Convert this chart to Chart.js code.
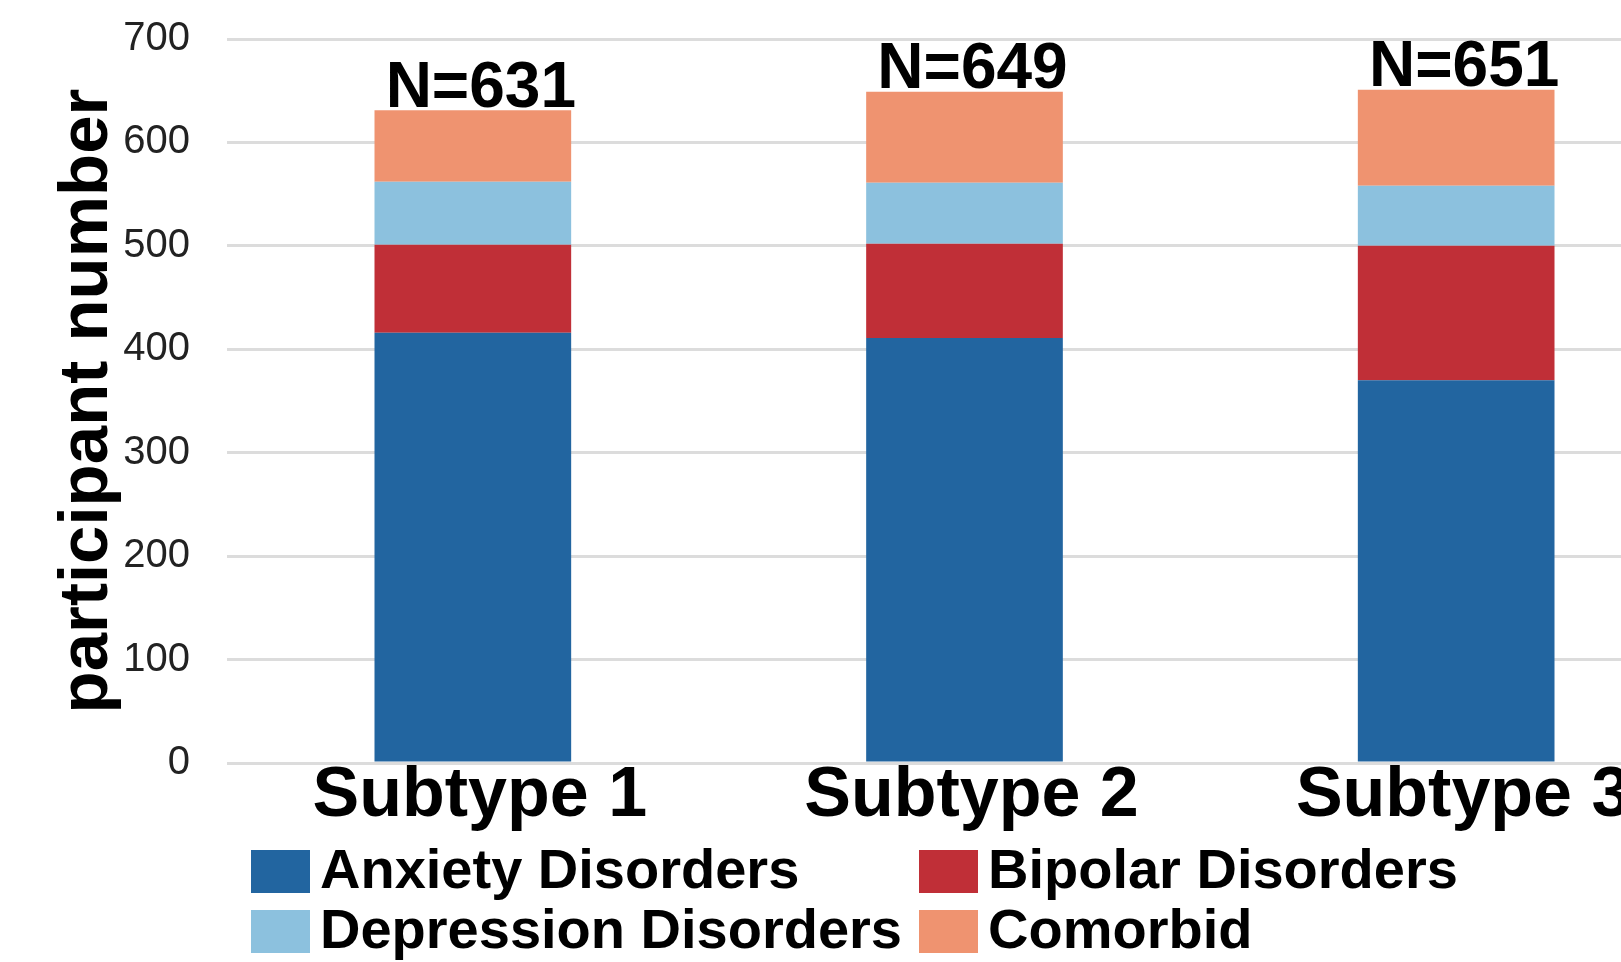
<!DOCTYPE html>
<html>
<head>
<meta charset="utf-8">
<script src="https://cdn.jsdelivr.net/npm/chart.js@4.4.1/dist/chart.umd.min.js"></script>
<style>
  html, body { margin: 0; padding: 0; background: #fff; overflow: hidden; width: 1621px; height: 962px; }
  #wrap { position: absolute; left: 0; top: 0; width: 1702px; height: 962px; }
</style>
</head>
<body>
<div id="wrap"><canvas id="chart"></canvas></div>
<script>
// Participants per subtype, split by diagnosis (stacked bottom to top)
const subtypes   = ['Subtype 1', 'Subtype 2', 'Subtype 3'];
const anxiety    = [416, 411, 370];
const bipolar    = [85, 91, 130];
const depression = [61, 59, 58];
const comorbid   = [69, 88, 93];
const seriesNames = ['Anxiety Disorders', 'Bipolar Disorders', 'Depression Disorders', 'Comorbid'];
const seriesColors = ['#2265a0', '#c02f37', '#8cc1de', '#ef9370'];

const FONT = '"Liberation Sans", Arial, Helvetica, sans-serif';

// "N=..." totals above each stacked bar
const totalsPlugin = {
  id: 'totals',
  afterDatasetsDraw(chart) {
    const ctx = chart.ctx;
    const last = chart.data.datasets.length - 1;
    const meta = chart.getDatasetMeta(last);
    ctx.save();
    ctx.font = 'bold 64px ' + FONT;
    ctx.fillStyle = '#000';
    ctx.textAlign = 'center';
    ctx.textBaseline = 'alphabetic';
    meta.data.forEach((bar, i) => {
      const total = chart.data.datasets.reduce((s, d) => s + d.data[i], 0);
      ctx.fillText('N=' + total, bar.x + 8, bar.y - 3.5);
    });
    ctx.restore();
  }
};

// Two-column legend below the axis
const gridLegendPlugin = {
  id: 'gridLegend',
  afterDraw(chart) {
    const ctx = chart.ctx;
    const colX = [251, 919];
    const rowTop = [850, 910];
    const boxW = 59, boxH = 43, textGap = 69, baselineOffset = 38;
    ctx.save();
    ctx.font = 'bold 56px ' + FONT;
    ctx.textAlign = 'left';
    ctx.textBaseline = 'alphabetic';
    chart.data.datasets.forEach((ds, i) => {
      const col = i % 2, row = Math.floor(i / 2);
      const x = colX[col], y = rowTop[row];
      ctx.fillStyle = ds.backgroundColor;
      ctx.fillRect(x, y, boxW, boxH);
      ctx.fillStyle = '#000';
      ctx.fillText(ds.label, x + textGap, y + baselineOffset);
    });
    ctx.restore();
  }
};

const datasets = [anxiety, bipolar, depression, comorbid].map((values, i) => ({
  label: seriesNames[i],
  data: values,
  backgroundColor: seriesColors[i],
  borderWidth: 0,
  categoryPercentage: 1.0,
  barPercentage: 0.4
}));

new Chart(document.getElementById('chart'), {
  type: 'bar',
  data: { labels: subtypes, datasets },
  options: {
    responsive: true,
    maintainAspectRatio: false,
    devicePixelRatio: 1,
    animation: false,
    layout: { padding: { top: 39, left: 0, right: 0, bottom: 0 } },
    plugins: {
      legend: { display: false },
      tooltip: { enabled: false }
    },
    scales: {
      x: {
        stacked: true,
        grid: { display: false, drawTicks: false },
        border: { display: false },
        ticks: {
          color: '#000',
          font: { family: FONT, size: 70, weight: 'bold', lineHeight: 0.8 },
          padding: 5.5,
          labelOffset: 7,
          maxRotation: 0,
          autoSkip: false
        },
        afterFit(scale) { scale.height = 199; }
      },
      y: {
        stacked: true,
        min: 0,
        max: 700,
        grid: { color: '#dcdcdc', lineWidth: 3, drawTicks: false },
        border: { display: false },
        ticks: {
          stepSize: 100,
          color: '#222',
          font: { family: FONT, size: 40 },
          padding: 37
        },
        title: {
          display: true,
          text: 'participant number',
          color: '#000',
          font: { family: FONT, size: 69, weight: 'bold' },
          padding: { top: 47, bottom: 0 }
        },
        afterFit(scale) {
          scale.width = 227;
          scale.paddingTop = 0;
          scale.paddingBottom = 0;
        }
      }
    }
  },
  plugins: [totalsPlugin, gridLegendPlugin]
});
</script>
</body>
</html>
